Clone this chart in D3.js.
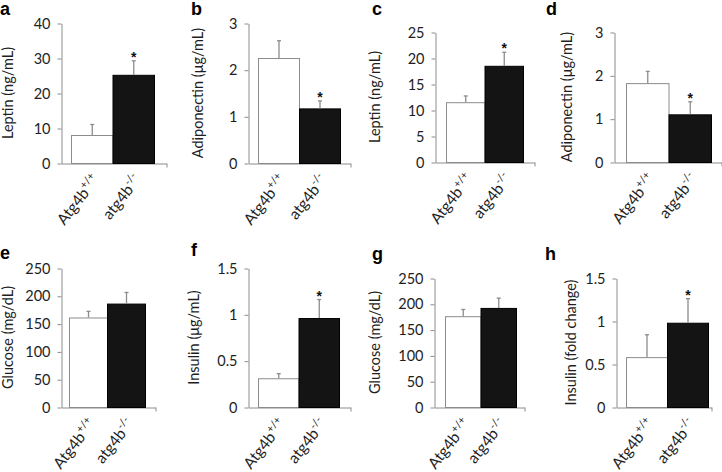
<!DOCTYPE html>
<html><head><meta charset="utf-8">
<script src="https://cdn.jsdelivr.net/npm/d3@7"></script>
<style>body{margin:0;background:#fff} svg{display:block}</style>
</head><body><svg id="c" width="722" height="472"></svg>
<script>
// ---- data ----
const groups = ["Atg4b+/+", "atg4b-/-"];
const groupBase = ["Atg4b", "atg4b"];
const groupSup = ["+/+", "-/-"];
const panelLetters = ["a","b","c","d","e","f","g","h"];
const yTitles = ["Leptin (ng/mL)","Adiponectin (μg/mL)","Leptin (ng/mL)","Adiponectin (μg/mL)",
                 "Glucose (mg/dL)","Insulin (μg/mL)","Glucose (mg/dL)","Insulin (fold change)"];
const yTicks = [[0,10,20,30,40],[0,1,2,3],[0,5,10,15,20,25],[0,1,2,3],
                [0,50,100,150,200,250],[0,0.5,1,1.5],[0,50,100,150,200,250],[0,0.5,1,1.5]];
const wildTypeMeans = [8, 2.25, 11.5, 1.82, 161, 0.31, 176, 0.58];
const knockoutMeans = [25.2, 1.17, 18.5, 1.1, 186, 0.96, 192, 0.98];
const wildTypeErr   = [3, 0.37, 1.2, 0.27, 11, 0.05, 13, 0.26];
const knockoutErr   = [4, 0.16, 2.6, 0.29, 20, 0.2, 19, 0.28];
const knockoutSignificant = [true,true,true,true,false,true,false,true];

// ---- layout ----
const layout = [
 {x0:61,  x1:166, bx0:71,  bx1:154, yT:23,  yB:163, tx:8,   lx:0,   ly:15},
 {x0:248, x1:350, bx0:258, bx1:340, yT:23,  yB:163, tx:198, lx:191, ly:15},
 {x0:435, x1:534, bx0:446, bx1:523, yT:32,  yB:162, tx:375, lx:372, ly:15},
 {x0:614, x1:721, bx0:626, bx1:711, yT:32,  yB:162, tx:567, lx:546, ly:15},
 {x0:61,  x1:155, bx0:69,  bx1:145, yT:268, yB:407, tx:8,   lx:0,   ly:259},
 {x0:248, x1:350, bx0:258, bx1:339, yT:268, yB:407, tx:194, lx:191, ly:256},
 {x0:434, x1:524, bx0:445, bx1:516, yT:278, yB:407, tx:375, lx:372, ly:260},
 {x0:616, x1:711, bx0:626, bx1:708, yT:278, yB:407, tx:571, lx:545, ly:260},
];

const axisColor = "#8c8c8c";
const textColor = "#1e1e1e";
const FONT = "Lato, 'Open Sans', sans-serif";
const svg = d3.select("#c");

panelLetters.forEach((letter, i) => {
  const L = layout[i];
  const g = svg.append("g");
  const vals = [wildTypeMeans[i], knockoutMeans[i]];
  const errs = [wildTypeErr[i], knockoutErr[i]];
  const y = d3.scaleLinear().domain([0, d3.max(yTicks[i])]).range([L.yB, L.yT]);
  const x = d3.scaleBand().domain(groups).range([L.bx0, L.bx1]).padding(0);

  // y axis
  const ya = g.append("g").attr("transform", `translate(${L.x0 + 0.5},0.5)`)
    .call(d3.axisLeft(y).tickValues(yTicks[i]).tickSize(4).tickSizeOuter(0).tickPadding(7)
      .tickFormat(d3.format("~g")));
  ya.select(".domain").attr("stroke", axisColor);
  ya.selectAll(".tick line").attr("stroke", axisColor);
  ya.selectAll(".tick text").attr("fill", textColor).style("font-family", FONT).style("font-size", "14.5px");

  // x axis
  const xs = d3.scaleLinear().domain([0, 1]).range([L.x0, L.x1]);
  const xa = g.append("g").attr("transform", `translate(0.5,${L.yB + 0.5})`)
    .call(d3.axisBottom(xs).tickValues([1]).tickSize(4).tickSizeOuter(0).tickFormat(""));
  xa.select(".domain").attr("stroke", axisColor);
  xa.selectAll(".tick line").attr("stroke", axisColor);

  // bars
  g.selectAll("rect.bar").data(groups).join("rect")
    .attr("x", d => x(d) + 0.5)
    .attr("y", (d, j) => y(vals[j]) + 0.5)
    .attr("width", x.bandwidth())
    .attr("height", (d, j) => L.yB - y(vals[j]))
    .attr("fill", (d, j) => j === 0 ? "#ffffff" : "#141414")
    .attr("stroke", (d, j) => j === 0 ? axisColor : "#000")
    .attr("stroke-width", 1);

  // error bars (upper)
  groups.forEach((gr, j) => {
    const cx = x(gr) + x.bandwidth() / 2 + 0.5;
    const y1 = y(vals[j]), y2 = y(vals[j] + errs[j]);
    g.append("line").attr("x1", cx).attr("x2", cx).attr("y1", y1).attr("y2", y2)
      .attr("stroke", axisColor).attr("stroke-width", 1.3);
    g.append("line").attr("x1", cx - 2).attr("x2", cx + 2).attr("y1", y2).attr("y2", y2)
      .attr("stroke", axisColor).attr("stroke-width", 1.3);
    if (j === 1 && knockoutSignificant[i]) {
      g.append("text").attr("x", cx).attr("y", y2 + 1).attr("text-anchor", "middle")
        .style("font-family", "'Liberation Sans', Arial, sans-serif").style("font-size", "14px")
        .style("font-weight", "bold").attr("fill", "#111").text("*");
    }
    // x labels
    const t = g.append("text")
      .attr("transform", `translate(${cx + 8},${L.yB + 17}) rotate(-52)`)
      .attr("text-anchor", "end").attr("fill", textColor)
      .style("font-family", FONT).style("font-size", "15.5px");
    t.append("tspan").text(groupBase[j]);
    t.append("tspan").attr("dy", -6.5).style("font-size", "10.5px").text(groupSup[j]);
  });

  // y title
  g.append("text")
    .attr("transform", `translate(${L.tx},${(L.yT + L.yB) / 2}) rotate(-90)`)
    .attr("text-anchor", "middle").attr("dy", "0.35em").attr("fill", textColor)
    .style("font-family", FONT).style("font-size", "14.5px").text(yTitles[i]);

  // panel letter
  svg.append("text").attr("x", L.lx).attr("y", L.ly)
    .style("font-family", "'Liberation Sans', Arial, sans-serif").style("font-size", "18px")
    .style("font-weight", "bold").attr("fill", "#000").text(letter);
});
</script>
</body></html>
